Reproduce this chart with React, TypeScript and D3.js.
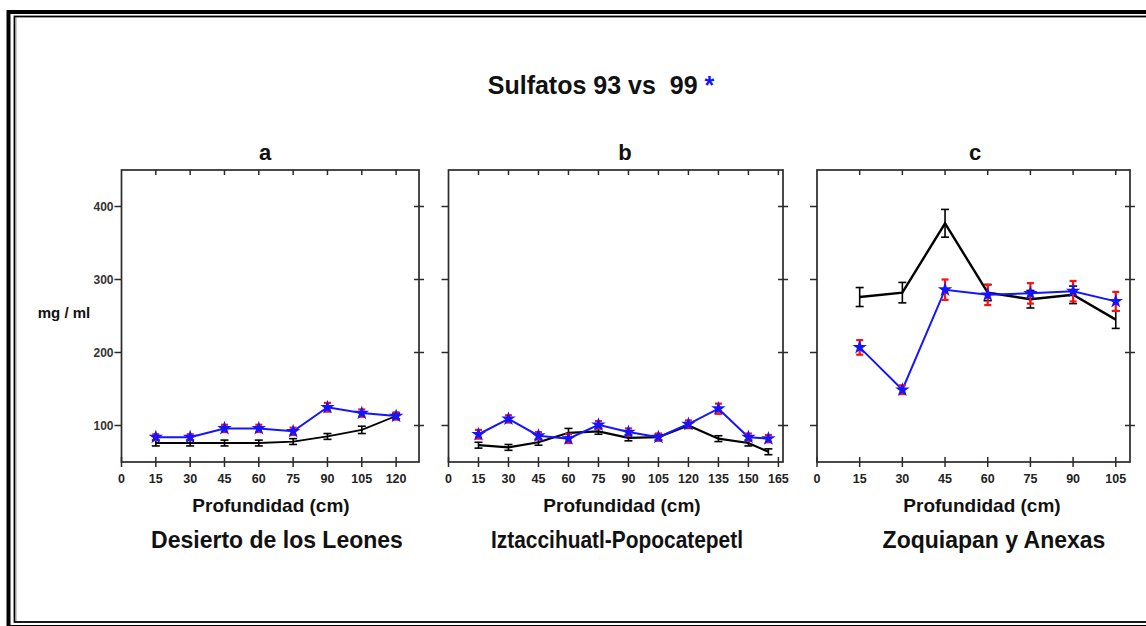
import React from "react";
import * as d3 from "d3";

// Sulfate concentration (mg/ml) by soil depth (cm), 1993 vs 1999
const depthA = [15, 30, 45, 60, 75, 90, 105, 120];
const s93A = [76, 76, 76, 76, 78, 85, 94, 113];
const e93A = [4, 4, 4, 4, 4, 4, 5, 4];
const s99A = [84, 84, 96, 96, 92, 125, 117, 113];
const e99A = [4, 4, 5, 5, 5, 6, 5, 5];

const depthB = [15, 30, 45, 60, 75, 90, 105, 120, 135, 150, 160];
const s93B = [73, 70, 77, 90, 92, 83, 84, 100, 82, 76, 64];
const e93B = [4, 4, 4, 6, 4, 4, 4, 4, 4, 4, 4];
const s99B = [88, 109, 86, 82, 101, 91, 84, 102, 123, 84, 82];
const e99B = [6, 5, 5, 6, 5, 5, 5, 5, 7, 5, 5];

const depthC = [15, 30, 45, 60, 75, 90, 105];
const s93C = [276, 282, 377, 282, 273, 279, 245];
const e93C = [13, 14, 19, 11, 12, 12, 12];
const s99C = [207, 149, 286, 279, 281, 284, 270];
const e99C = [10, 6, 14, 14, 14, 14, 13];

const xTicksA = [0, 15, 30, 45, 60, 75, 90, 105, 120];
const xTicksB = [0, 15, 30, 45, 60, 75, 90, 105, 120, 135, 150, 165];
const xTicksC = [0, 15, 30, 45, 60, 75, 90, 105];
const yTicks = [100, 200, 300, 400];

const W = 1146;
const H = 626;
const FONT = "'Liberation Sans', Arial, Helvetica, sans-serif";
const BLUE = "#1414ff";
const RED = "#ff1010";

type Panel = {
  letter: string;
  region: string;
  left: number;
  right: number;
  xMax: number;
  xTicks: number[];
  depth: number[];
  s93: number[];
  e93: number[];
  s99: number[];
  e99: number[];
  letterX: number;
  xlabelX: number;
  regionX: number;
  regionLength?: number;
  yLabels: boolean;
  blackWidth: number;
};

const panels: Panel[] = [
  {
    letter: "a", region: "Desierto de los Leones", left: 121.5, right: 419, xMax: 130,
    xTicks: xTicksA, depth: depthA, s93: s93A, e93: e93A, s99: s99A, e99: e99A,
    letterX: 265, xlabelX: 271, regionX: 277, yLabels: true, blackWidth: 1.8,
  },
  {
    letter: "b", region: "Iztaccihuatl-Popocatepetl", left: 448.5, right: 783, xMax: 167.3,
    xTicks: xTicksB, depth: depthB, s93: s93B, e93: e93B, s99: s99B, e99: e99B,
    letterX: 625, xlabelX: 622, regionX: 617, regionLength: 252, yLabels: false, blackWidth: 2.2,
  },
  {
    letter: "c", region: "Zoquiapan y Anexas", left: 817, right: 1130, xMax: 110,
    xTicks: xTicksC, depth: depthC, s93: s93C, e93: e93C, s99: s99C, e99: e99C,
    letterX: 975, xlabelX: 982, regionX: 994, yLabels: false, blackWidth: 2.4,
  },
];

const TOP = 170;
const BOTTOM = 462;
const y = d3.scaleLinear().domain([50, 450]).range([BOTTOM, TOP]);
const star = d3.symbol().type(d3.symbolStar).size(65)();

function ErrorBars({ xs, vs, es, x, color, cap, width }: any) {
  return (
    <g stroke={color} strokeWidth={width} fill="none">
      {xs.map((d: number, i: number) => {
        const cx = x(d);
        const y0 = y(vs[i] - es[i]);
        const y1 = y(vs[i] + es[i]);
        return (
          <g key={i}>
            <line x1={cx} x2={cx} y1={y0} y2={y1} />
            <line x1={cx - cap} x2={cx + cap} y1={y0} y2={y0} />
            <line x1={cx - cap} x2={cx + cap} y1={y1} y2={y1} />
          </g>
        );
      })}
    </g>
  );
}

function PanelView({ p }: { p: Panel }) {
  const x = d3.scaleLinear().domain([0, p.xMax]).range([p.left, p.right]);
  const line = d3
    .line<number>()
    .x((_, i) => x(p.depth[i]))
    .y((v) => y(v));
  const frame = "#2a2a2a";
  return (
    <g>
      {/* frame */}
      <rect x={p.left} y={TOP} width={p.right - p.left} height={BOTTOM - TOP}
        fill="none" stroke={frame} strokeWidth={1.7} />
      {/* y ticks: outward on the left, crossing on the right */}
      {yTicks.map((t) => (
        <g key={t} stroke={frame} strokeWidth={1.5}>
          <line x1={p.left - 7} x2={p.left} y1={y(t)} y2={y(t)} />
          <line x1={p.right - 5} x2={p.right + 5} y1={y(t)} y2={y(t)} />
        </g>
      ))}
      {p.yLabels &&
        yTicks.map((t) => (
          <text key={t} x={p.left - 8} y={y(t) + 4.5} textAnchor="end"
            fontFamily={FONT} fontWeight="bold" fontSize={12} fill="#333">
            {t}
          </text>
        ))}
      {/* x ticks */}
      {p.xTicks.map((t) => (
        <g key={t} stroke={frame} strokeWidth={1.5}>
          <line x1={x(t)} x2={x(t)} y1={BOTTOM - 5} y2={BOTTOM + 5} />
          {t > 0 && <line x1={x(t)} x2={x(t)} y1={TOP} y2={TOP + 5} />}
        </g>
      ))}
      {p.xTicks.map((t) => (
        <text key={t} x={x(t)} y={BOTTOM + 21} textAnchor="middle"
          fontFamily={FONT} fontWeight="bold" fontSize={12.5} fill="#222">
          {t}
        </text>
      ))}
      {/* 1993 series */}
      <path d={line(p.s93) || ""} fill="none" stroke="#000" strokeWidth={p.blackWidth} />
      <ErrorBars xs={p.depth} vs={p.s93} es={p.e93} x={x} color="#000" cap={4} width={1.6} />
      {/* 1999 series */}
      <path d={line(p.s99) || ""} fill="none" stroke={BLUE} strokeWidth={2} />
      <ErrorBars xs={p.depth} vs={p.s99} es={p.e99} x={x} color={RED} cap={3.5} width={2.2} />
      {p.s99.map((v, i) => (
        <path key={i} d={star || ""} transform={`translate(${x(p.depth[i])},${y(v)})`} fill={BLUE} />
      ))}
      {/* labels */}
      <text x={p.letterX} y={160} textAnchor="middle" fontFamily={FONT}
        fontWeight="bold" fontSize={22} fill="#111">
        {p.letter}
      </text>
      <text x={p.xlabelX} y={512} textAnchor="middle" fontFamily={FONT}
        fontWeight="bold" fontSize={19} fill="#111">
        Profundidad (cm)
      </text>
      <text x={p.regionX} y={548} textAnchor="middle" fontFamily={FONT}
        fontWeight="bold" fontSize={23} fill="#111"
        textLength={p.regionLength} lengthAdjust={p.regionLength ? "spacingAndGlyphs" : undefined}>
        {p.region}
      </text>
    </g>
  );
}

export default function App() {
  return (
    <svg width={W} height={H} viewBox={`0 0 ${W} ${H}`}
      style={{ position: "absolute", left: 0, top: 0, background: "#fff" }}>
      <rect x={0} y={0} width={W} height={H} fill="#fff" />
      {/* double border */}
      <rect x={8.5} y={12} width={W + 40} height={615} fill="none" stroke="#000" strokeWidth={4} />
      <rect x={14.5} y={16.5} width={W + 40} height={605.5} fill="none" stroke="#000" strokeWidth={1.8} />
      <line x1={16} x2={16} y1={17.5} y2={621} stroke="#999" strokeWidth={1} />
      {/* title */}
      <text x={601} y={94} textAnchor="middle" fontFamily={FONT} fontWeight="bold"
        fontSize={25} fill="#111" style={{ whiteSpace: "pre" }}>
        <tspan>{"Sulfatos 93 vs  99 "}</tspan>
        <tspan fill={BLUE}>*</tspan>
      </text>
      <text x={64} y={318} textAnchor="middle" fontFamily={FONT} fontWeight="bold"
        fontSize={15} fill="#111">
        mg / ml
      </text>
      {panels.map((p) => (
        <PanelView key={p.letter} p={p} />
      ))}
    </svg>
  );
}
